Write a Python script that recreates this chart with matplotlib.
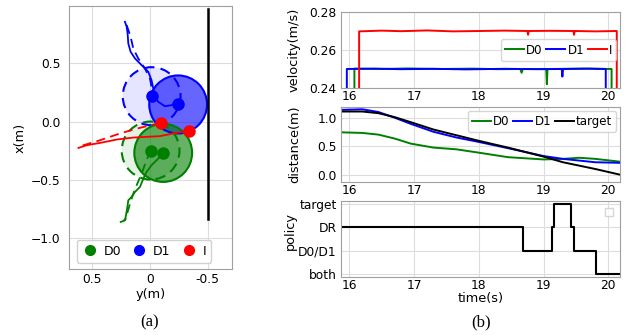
import matplotlib
matplotlib.use("Agg")
import matplotlib.pyplot as plt
from matplotlib.patches import Circle
from matplotlib.lines import Line2D

# ---------------- data: panel (a) ----------------
d1_y = [0.216, 0.201, 0.193, 0.187, 0.167, 0.129, 0.072, 0.014, -0.014, -0.029, -0.043, -0.072, -0.129, -0.187, -0.244]
d1_x = [0.859, 0.816, 0.759, 0.672, 0.601, 0.543, 0.486, 0.428, 0.356, 0.284, 0.213, 0.170, 0.132, 0.141, 0.147]
d1p_y = [0.201, 0.167, 0.144, 0.101, 0.043, 0.0, -0.014, -0.014]
d1p_x = [0.830, 0.730, 0.629, 0.543, 0.457, 0.371, 0.299, 0.218]
d0_y = [-0.115, -0.072, -0.014, 0.029, 0.057, 0.086, 0.129, 0.158, 0.187, 0.195, 0.207, 0.216, 0.253]
d0_x = [-0.270, -0.319, -0.376, -0.434, -0.491, -0.563, -0.606, -0.649, -0.678, -0.736, -0.807, -0.851, -0.865]
d0p_y = [-0.006, 0.029, 0.072, 0.115, 0.149, 0.172, 0.193, 0.207, 0.230]
d0p_x = [-0.250, -0.333, -0.448, -0.549, -0.635, -0.707, -0.779, -0.836, -0.856]
i_y = [-0.339, -0.201, -0.086, 0.029, 0.144, 0.287, 0.431, 0.546, 0.618]
i_x = [-0.080, -0.103, -0.126, -0.132, -0.138, -0.155, -0.184, -0.204, -0.227]
ip_y = [-0.092, 0.029, 0.144, 0.287, 0.431, 0.575, 0.609]
ip_x = [-0.011, -0.040, -0.069, -0.112, -0.161, -0.204, -0.218]
wall_y = [-0.5, -0.5]
wall_x = [-0.84, 0.97]
radius = 0.25

# ---------------- data: panel (b) ----------------
v_d0_t = [16.077, 16.077, 16.5, 16.9, 17.4, 17.9, 18.3, 18.64, 18.66, 18.68, 19.04, 19.05, 19.06, 19.6, 20.05, 20.05]
v_d0_v = [0.235, 0.2502, 0.2500, 0.2503, 0.2500, 0.2502, 0.2499, 0.2500, 0.2480, 0.2500, 0.2500, 0.2420, 0.2500, 0.2502, 0.2500, 0.235]
v_d1_t = [15.96, 15.96, 16.4, 16.8, 17.3, 17.8, 18.4, 18.9, 19.28, 19.29, 19.30, 19.7, 19.96, 19.96]
v_d1_v = [0.235, 0.2500, 0.2502, 0.2499, 0.2501, 0.2498, 0.2501, 0.2499, 0.2500, 0.2460, 0.2500, 0.2502, 0.2500, 0.235]
v_i_t = [16.15, 16.15, 16.5, 16.8, 17.2, 17.6, 18.0, 18.4, 18.75, 18.76, 18.77, 19.1, 19.46, 19.47, 19.48, 19.8, 20.13, 20.13]
v_i_v = [0.235, 0.2698, 0.2702, 0.2699, 0.2703, 0.2698, 0.2700, 0.2702, 0.2700, 0.2680, 0.2700, 0.2701, 0.2700, 0.2680, 0.2700, 0.2698, 0.2700, 0.235]

dist_t = [15.9, 16.2, 16.45, 16.7, 16.95, 17.3, 17.65, 18.0, 18.45, 19.0, 19.3, 19.55, 19.8, 20.18]
dist_d0 = [0.75, 0.74, 0.71, 0.64, 0.55, 0.48, 0.45, 0.39, 0.31, 0.27, 0.28, 0.30, 0.28, 0.23]
dist_d1 = [1.15, 1.16, 1.11, 1.01, 0.90, 0.76, 0.66, 0.58, 0.47, 0.33, 0.28, 0.25, 0.22, 0.21]
dist_tg = [1.12, 1.12, 1.09, 1.02, 0.93, 0.80, 0.70, 0.60, 0.48, 0.32, 0.22, 0.16, 0.10, 0.00]

pol_t = [15.87, 18.68, 18.68, 19.13, 19.13, 19.16, 19.16, 19.43, 19.43, 19.47, 19.47, 19.81, 19.81, 20.18]
pol_v = [2, 2, 1, 1, 2, 2, 3, 3, 2, 2, 1, 1, 0, 0]
pol_labels = ["both", "D0/D1", "DR", "target"]

GREEN, BLUE, RED = "green", "blue", "red"
TICK = 8.8
LAB = 9.3

W, H = 626, 335
fig = plt.figure(figsize=(W / 100, H / 100), dpi=100)

def ax_px(l, t, r, b):
    return fig.add_axes([l / W, 1 - b / H, (r - l) / W, (b - t) / H])

def style(ax):
    ax.set_facecolor("white")
    ax.grid(True, color="#dddddd", lw=0.8)
    ax.set_axisbelow(True)
    for s in ax.spines.values():
        s.set_color("#a0a0a0")
        s.set_linewidth(0.8)
    ax.tick_params(length=0, labelsize=TICK)

# ---------------- panel (a) ----------------
ax = ax_px(69, 6, 232, 269)
style(ax)
ax.tick_params(axis="y", pad=6)
ax.tick_params(axis="x", pad=3)
ax.add_patch(Circle((-0.015, 0.218), radius, facecolor=BLUE, alpha=0.1, lw=0, zorder=2))
ax.add_patch(Circle((-0.015, 0.218), radius, facecolor="none", edgecolor=BLUE, ls=(0, (5, 3)), lw=1.5, zorder=3))
ax.add_patch(Circle((-0.244, 0.147), radius, facecolor=BLUE, alpha=0.6, lw=0, zorder=2))
ax.add_patch(Circle((-0.244, 0.147), radius, facecolor="none", edgecolor=BLUE, lw=1.5, zorder=3))
ax.add_patch(Circle((-0.006, -0.250), radius, facecolor=GREEN, alpha=0.1, lw=0, zorder=2))
ax.add_patch(Circle((-0.006, -0.250), radius, facecolor="none", edgecolor=GREEN, ls=(0, (5, 3)), lw=1.5, zorder=3))
ax.add_patch(Circle((-0.115, -0.270), radius, facecolor=GREEN, alpha=0.6, lw=0, zorder=2))
ax.add_patch(Circle((-0.115, -0.270), radius, facecolor="none", edgecolor=GREEN, lw=1.5, zorder=3))

ax.plot(d1_y, d1_x, color=BLUE, lw=1.3, zorder=4)
ax.plot(d1p_y, d1p_x, color=BLUE, lw=1.3, ls=(0, (5, 3)), zorder=4)
ax.plot(d0_y, d0_x, color=GREEN, lw=1.3, zorder=4)
ax.plot(d0p_y, d0p_x, color=GREEN, lw=1.3, ls=(0, (5, 3)), zorder=4)
ax.plot(i_y, i_x, color=RED, lw=1.3, zorder=4)
ax.plot(ip_y, ip_x, color=RED, lw=1.3, ls=(0, (5, 3)), zorder=4)
ax.plot(wall_y, wall_x, color="black", lw=1.8, zorder=4)

for yy, xx, c in [(d1_y[-1], d1_x[-1], BLUE), (d1p_y[-1], d1p_x[-1], BLUE),
                  (d0_y[0], d0_x[0], GREEN), (d0p_y[0], d0p_x[0], GREEN),
                  (i_y[0], i_x[0], RED), (ip_y[0], ip_x[0], RED)]:
    ax.plot(yy, xx, "o", color=c, ms=8, zorder=5)

ax.set_xlim(0.70, -0.71)
ax.set_ylim(-1.27, 0.995)
ax.set_xticks([0.5, 0, -0.5])
ax.set_xticklabels(["0.5", "0", "-0.5"])
ax.set_yticks([0.5, 0.0, -0.5, -1.0])
ax.set_xlabel("y(m)", fontsize=LAB, labelpad=1)
ax.set_ylabel("x(m)", fontsize=LAB, labelpad=3)
handles = [Line2D([], [], marker="o", ls="none", color=c, ms=7) for c in (GREEN, BLUE, RED)]
ax.legend(handles, ["D0", "D1", "I"], loc="lower center", ncol=3, fontsize=9,
          handlelength=1.3, handletextpad=0.45, columnspacing=0.8, borderpad=0.4,
          framealpha=0.9, bbox_to_anchor=(0.46, 0.0))

# ---------------- panel (b) ----------------
XL = (15.87, 20.18)
LABX = (301 - 341) / 279

a1 = ax_px(341, 12, 620, 88)
style(a1)
a1.tick_params(axis="x", pad=1.5)
a1.tick_params(axis="y", pad=3)
a1.plot(v_d0_t, v_d0_v, color=GREEN, lw=1.4, label="D0")
a1.plot(v_d1_t, v_d1_v, color=BLUE, lw=1.4, label="D1")
a1.plot(v_i_t, v_i_v, color=RED, lw=1.4, label="I")
a1.set_xlim(*XL)
a1.set_ylim(0.24, 0.28)
a1.set_yticks([0.24, 0.26, 0.28])
a1.set_xticks([16, 17, 18, 19, 20])
a1.set_ylabel("velocity(m/s)", fontsize=LAB)
a1.yaxis.set_label_coords(LABX, 0.5)
a1.legend(loc="center right", ncol=3, fontsize=8.5, handlelength=1.6,
          handletextpad=0.2, columnspacing=0.3, borderpad=0.35, borderaxespad=0.3)

a2 = ax_px(341, 107, 620, 182)
style(a2)
a2.tick_params(axis="x", pad=1.5)
a2.tick_params(axis="y", pad=3)
a2.plot(dist_t, dist_d0, color=GREEN, lw=1.4, label="D0")
a2.plot(dist_t, dist_d1, color=BLUE, lw=1.4, label="D1")
a2.plot(dist_t, dist_tg, color="black", lw=1.4, label="target")
a2.set_xlim(*XL)
a2.set_ylim(-0.13, 1.2)
a2.set_yticks([0.0, 0.5, 1.0])
a2.set_xticks([16, 17, 18, 19, 20])
a2.set_ylabel("distance(m)", fontsize=LAB)
a2.yaxis.set_label_coords(LABX, 0.5)
a2.legend(loc="upper right", ncol=3, fontsize=8.5, handlelength=1.6,
          handletextpad=0.2, columnspacing=0.3, borderpad=0.35, borderaxespad=0.3)

a3 = ax_px(341, 201, 620, 277)
style(a3)
a3.tick_params(axis="x", pad=1.5)
a3.tick_params(axis="y", pad=3)
a3.plot(pol_t, pol_v, color="black", lw=1.5)
a3.set_xlim(*XL)
a3.set_ylim(-0.14, 3.14)
a3.set_yticks([0, 1, 2, 3])
a3.set_yticklabels(pol_labels)
a3.set_xticks([16, 17, 18, 19, 20])
a3.set_ylabel("policy", fontsize=LAB)
a3.yaxis.set_label_coords((297 - 341) / 279, 0.6)
a3.set_xlabel("time(s)", fontsize=LAB, labelpad=0)
a3.legend(handles=[], loc="upper right", borderpad=0.3, fancybox=False)

fig.text(150 / W, 1 - 322 / H, "(a)", fontsize=12, family="Liberation Serif", ha="center", va="center")
fig.text(481 / W, 1 - 322 / H, "(b)", fontsize=12, family="Liberation Serif", ha="center", va="center")

fig.savefig("out.png", dpi=100, facecolor="white")
